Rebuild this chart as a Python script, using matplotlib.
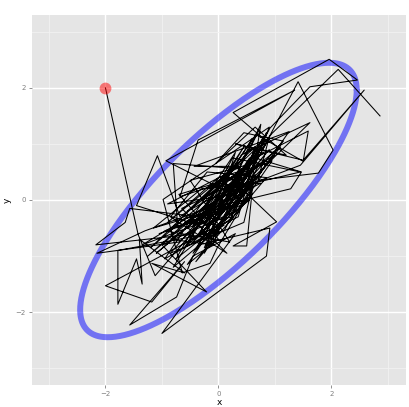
import numpy as np
import matplotlib
matplotlib.use("Agg")
import matplotlib.pyplot as plt

# ---- data ----
path_x = [-2.00, -1.42, -1.12, -0.35, -1.45, -1.08, -0.68, 0.45, -0.80, -0.72,
          0.25, -0.93, 1.35, -0.36, -0.68, 0.35, 1.00, 0.05, -1.57, -1.65,
          -2.17, -0.55, 0.62, -0.45, 0.78, 0.15, -0.70, -2.15, -1.30, -0.20,
          0.70, 0.10, -1.78, -1.78, -1.45, -1.35, -1.40, -0.60, -1.18, -0.21,
          -1.00, 0.30, 0.85, 0.50, -0.15, 0.95, 0.40, -0.40, 0.55, 0.72,
          0.20, -0.10, 1.10, 0.00, -0.85, 0.45, 0.65, -0.25, 0.60, 0.10,
          0.80, -0.30, 0.70, 0.35, -0.50, 0.25, 1.45, 0.20, 0.75, 0.55,
          -0.05, 1.62, 0.40, 0.90, 0.00, -2.00, -1.18, -0.60, -1.57, -0.74,
          -0.45, 0.30, -1.00, 0.85, 0.91, -0.35, 0.50, 0.82, 0.05, 1.28,
          1.47, 0.65, 1.59, 1.50, 0.70, 0.79, 0.26, 1.96, 2.46, 1.62,
          0.91, 0.30, -0.90, 0.40, -0.43, 1.25, 0.75, -0.20, 0.15, 1.03,
          0.26, 0.50, 0.60, -0.02, -0.15, -0.64, -0.98, 0.90, 0.60, 1.41,
          2.03, 1.77, 0.70, 0.88, 0.10, -0.55, 0.65, 0.20, 0.85, 0.00,
          -0.90, 0.30, -1.20, -0.10, -0.75, 0.55, -0.95, 0.20, -0.50, 0.60,
          -1.25, -0.30, 0.45, -0.60, 0.10, -1.05, 0.35, -0.40, 0.85, -0.20,
          -0.85, 0.15, -0.65, 0.50, -1.10, -0.05, 0.70, -0.45, 0.25, -0.80,
          0.05, -0.35, 0.90, -0.15, -1.35, 0.40, -0.55, 0.00, -0.70, 0.60,
          -0.25, 0.30, -0.95, 0.10, -0.60, 0.75, -0.30, -1.15, 0.20, -0.45,
          0.55, -0.10, -0.85, 0.35, 1.15, 0.45, -0.05, 0.65, 1.20, 0.30,
          1.50, 2.58, 1.45, 0.35, -0.30, 0.72, 0.95, 2.12, 2.86]
path_y = [2.00, -0.62, -1.35, -0.45, -0.10, 0.79, -0.30, 0.55, 0.65, -0.50,
          0.10, 0.70, 1.96, 1.07, 0.06, 0.40, 0.80, -0.35, -0.15, -0.40,
          -0.80, -0.62, 0.28, -0.95, 1.08, 0.00, -0.75, -0.95, -0.55, -0.15,
          0.60, -0.55, -0.90, -1.86, -1.05, -1.50, -0.70, -1.30, -1.13, -1.64,
          -0.80, -0.20, 1.20, 0.30, 0.25, 0.70, -0.10, -0.30, 0.90, 1.25,
          0.50, -0.60, 0.95, 0.05, -0.95, -0.40, 0.45, -0.85, 1.10, 0.30,
          0.85, 0.00, 0.95, -0.30, -0.70, 0.75, 0.50, 0.20, 1.35, 0.05,
          -0.25, 1.38, 0.80, 1.10, -0.45, -1.53, -1.82, -1.10, -2.23, -1.73,
          -1.00, -0.60, -2.38, -1.00, -0.50, -0.80, 0.65, 1.15, -0.10, 0.20,
          0.50, 0.75, 1.23, 0.69, 1.15, 1.10, 1.56, 2.51, 2.14, 2.02,
          1.28, 0.10, -0.07, 0.60, 0.60, 1.22, 0.50, -0.50, 0.45, -0.39,
          -0.82, -0.82, 0.20, -0.85, -1.13, -1.30, 0.01, 1.30, 0.55, 2.11,
          0.89, 0.48, 0.35, 1.05, 0.15, -0.20, 0.95, -0.40, 0.65, 0.40,
          -0.40, 0.60, -0.85, 0.10, -1.05, 0.00, -0.55, -0.75, 0.35, 0.65,
          -1.00, -0.20, 0.95, -0.85, -0.20, -0.60, -0.05, -1.10, 0.40, 0.50,
          -0.30, -0.95, -0.15, 0.40, -0.95, -0.05, 0.80, -0.45, -0.30, -1.20,
          0.20, -0.65, 0.90, -0.35, -0.80, 0.25, -1.15, -0.70, 0.10, 0.50,
          -0.95, 0.85, -1.05, -0.45, -0.40, 0.30, 0.20, -0.50, -0.10, -0.75,
          0.75, -0.80, -0.70, 0.15, 1.05, 1.20, 0.65, 1.30, 0.80, 1.00,
          0.71, 1.96, 0.62, 0.20, -0.35, 0.90, 1.19, 2.33, 1.50]
start_x = [-2.0]
start_y = [2.0]
rho = 0.8
level_chi2 = 5.991  # 95% quantile, 2 dof
x_ticks = [-2, 0, 2]
y_ticks = [-2, 0, 2]

# ---- figure ----
fig = plt.figure(figsize=(4.09, 4.07), dpi=100)
fig.patch.set_facecolor("white")
ax = fig.add_axes([32/409, 22/407, 374/409, 370/407])
ax.set_facecolor("#E5E5E5")
for s in ax.spines.values():
    s.set_visible(False)

ax.set_xlim(-3.30, 3.32)
ax.set_ylim(-3.30, 3.30)
ax.set_xticks(x_ticks)
ax.set_yticks(y_ticks)
ax.set_xticks([-3, -1, 1, 3], minor=True)
ax.set_yticks([-3, -1, 1, 3], minor=True)
ax.grid(which="major", color="white", lw=1.0)
ax.grid(which="minor", color="#F2F2F2", lw=0.6)
ax.set_axisbelow(True)
ax.tick_params(which="major", length=2.5, width=0.6, color="#7F7F7F",
               labelcolor="#7F7F7F", labelsize=5, pad=2)
ax.tick_params(which="minor", length=0)
ax.set_xticklabels([str(t).replace("-", "\u2212") for t in x_ticks])
ax.set_yticklabels([str(t).replace("-", "\u2212") for t in y_ticks])
ax.set_xlabel("x", fontsize=6.5, labelpad=0.5)
ax.set_ylabel("y", fontsize=6.5, labelpad=3)

# ellipse
t = np.linspace(0, 2*np.pi, 400)
cov = np.array([[1.0, rho], [rho, 1.0]])
L = np.linalg.cholesky(cov)
circ = np.vstack([np.cos(t), np.sin(t)]) * np.sqrt(level_chi2)
ell = L @ circ
ax.plot(ell[0], ell[1], color="blue", alpha=0.5, lw=4.3, solid_capstyle="round", zorder=2)

# path
ax.plot(path_x, path_y, color="black", lw=0.75, zorder=3)

# start point
ax.plot(start_x, start_y, "o", color="red", alpha=0.5, ms=8.5, mew=0, zorder=4)

fig.savefig("out.png", dpi=100)
